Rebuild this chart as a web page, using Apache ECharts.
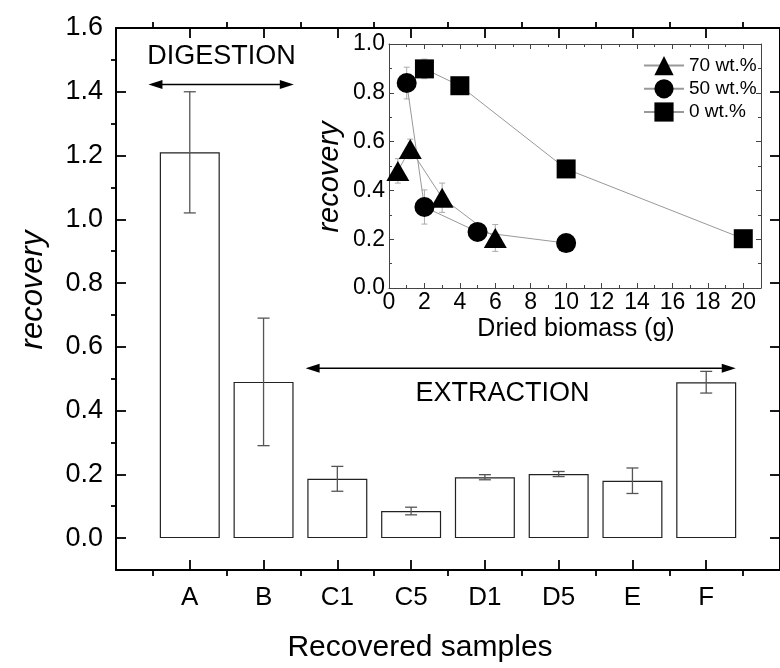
<!DOCTYPE html>
<html>
<head>
<meta charset="utf-8">
<script src="https://cdn.jsdelivr.net/npm/echarts@6/dist/echarts.min.js"></script>
<style>
html, body { margin: 0; padding: 0; background: #fff; }
#chart { width: 780px; height: 668px; }
</style>
</head>
<body>
<div id="chart"></div>
<script>
// main bar chart
const samples = ['A', 'B', 'C1', 'C5', 'D1', 'D5', 'E', 'F'];
const recovery = [1.21, 0.49, 0.186, 0.085, 0.191, 0.201, 0.18, 0.489];
const recoveryErr = [0.19, 0.2, 0.039, 0.012, 0.008, 0.008, 0.04, 0.034];
const mainYTicks = [0, 0.2, 0.4, 0.6, 0.8, 1.0, 1.2, 1.4, 1.6];
const mainYMinor = [0.1, 0.3, 0.5, 0.7, 0.9, 1.1, 1.3, 1.5];
const samplePos = [1, 2, 3, 4, 5, 6, 7, 8];
const sampleEdges = [0.5, 1.5, 2.5, 3.5, 4.5, 5.5, 6.5, 7.5, 8.5];

// phase arrows (x from, x to, y) and labels
const phaseNames = ['DIGESTION', 'EXTRACTION'];
const phaseFrom = [0.44, 2.57];
const phaseTo = [2.41, 8.4];
const phaseArrowY = [1.423, 0.533];
const phaseLabelX = [1.43, 5.24];
const phaseLabelY = [1.509, 0.452];

// inset
const biomass70 = [0.5, 1.2, 3, 6];
const rec70 = [0.48, 0.57, 0.37, 0.205];
const err70 = [0.05, 0.04, 0.06, 0.055];
const biomass50 = [1, 2, 5, 10];
const rec50 = [0.84, 0.332, 0.23, 0.184];
const err50 = [0.065, 0.07, 0.02, 0.01];
const biomass0 = [2, 4, 10, 20];
const rec0 = [0.898, 0.829, 0.488, 0.202];
const err0 = [0.04, 0.01, 0.01, 0.01];
const insetXTicks = [0, 2, 4, 6, 8, 10, 12, 14, 16, 18, 20];
const insetXMinor = [1, 3, 5, 7, 9, 11, 13, 15, 17, 19];

const FONT = '"Liberation Sans", Arial, sans-serif';

function tickAxis(o) {
    // one axis = one set of ticks; labels/line only when asked
    return {
        type: 'value',
        gridIndex: o.grid,
        position: o.pos,
        min: o.min,
        max: o.max,
        interval: o.interval,
        splitLine: { show: false },
        axisLine: { show: !!o.line, onZero: false, lineStyle: { color: o.color || '#000', width: o.lw || 2 } },
        axisTick: {
            show: !!o.ticks,
            inside: !!o.inside,
            length: o.len || 6,
            customValues: o.ticks,
            lineStyle: { color: o.color || '#000', width: o.tw || 1.8 }
        },
        minorTick: o.minor ? { show: true, splitNumber: 2, length: 3, lineStyle: { color: o.color, width: 1 } } : { show: false },
        axisLabel: o.labels ? {
            show: true,
            customValues: o.labels,
            formatter: o.fmt,
            color: '#000',
            fontSize: o.fs,
            fontFamily: FONT,
            margin: o.margin
        } : { show: false }
    };
}

function errorBars(capHalf, color, width) {
    return function (params, api) {
        const x = api.value(0);
        const top = api.coord([x, api.value(2)]);
        const bot = api.coord([x, api.value(1)]);
        const st = { stroke: color, lineWidth: width };
        return {
            type: 'group',
            children: [
                { type: 'line', shape: { x1: top[0], y1: top[1], x2: bot[0], y2: bot[1] }, style: st },
                { type: 'line', shape: { x1: top[0] - capHalf, y1: top[1], x2: top[0] + capHalf, y2: top[1] }, style: st },
                { type: 'line', shape: { x1: bot[0] - capHalf, y1: bot[1], x2: bot[0] + capHalf, y2: bot[1] }, style: st }
            ]
        };
    };
}

function phaseItem(params, api) {
    const i = params.dataIndex;
    const a = api.coord([phaseFrom[i], phaseArrowY[i]]);
    const b = api.coord([phaseTo[i], phaseArrowY[i]]);
    const t = api.coord([phaseLabelX[i], phaseLabelY[i]]);
    const hl = 14, hw = 4.5;
    return {
        type: 'group',
        children: [
            { type: 'line', shape: { x1: a[0] + 4, y1: a[1], x2: b[0] - 4, y2: b[1] }, style: { stroke: '#000', lineWidth: 1.5 } },
            { type: 'polygon', shape: { points: [[a[0], a[1]], [a[0] + hl, a[1] - hw], [a[0] + hl, a[1] + hw]] }, style: { fill: '#000' } },
            { type: 'polygon', shape: { points: [[b[0], b[1]], [b[0] - hl, b[1] - hw], [b[0] - hl, b[1] + hw]] }, style: { fill: '#000' } },
            { type: 'text', x: t[0], y: t[1], style: { text: phaseNames[i], fill: '#000', fontSize: 27, fontFamily: FONT, align: 'center', verticalAlign: 'middle' } }
        ]
    };
}

const chart = echarts.init(document.getElementById('chart'));

const option = {
    animation: false,
    backgroundColor: '#fff',
    grid: [
        { left: 116, top: 28, width: 669, height: 542 },
        { left: 389, top: 44, width: 372, height: 244 }
    ],
    xAxis: [
        tickAxis({ grid: 0, pos: 'bottom', min: 0, max: 9, line: true, ticks: samplePos, inside: true, len: 10,
            labels: samplePos, fmt: v => samples[v - 1], fs: 26, margin: 15 }),
        tickAxis({ grid: 0, pos: 'bottom', min: 0, max: 9, ticks: sampleEdges, len: 6 }),
        tickAxis({ grid: 0, pos: 'top', min: 0, max: 9, line: true, ticks: samplePos, inside: true, len: 10 }),
        tickAxis({ grid: 0, pos: 'top', min: 0, max: 9, ticks: sampleEdges, len: 6 }),
        tickAxis({ grid: 1, pos: 'bottom', min: 0, max: 21, line: true, lw: 1, tw: 1, color: '#444', ticks: insetXTicks, inside: true, len: 5,
            labels: insetXTicks, fmt: v => String(v), fs: 23, margin: 3 }),
        tickAxis({ grid: 1, pos: 'bottom', min: 0, max: 21, tw: 1, color: '#444', ticks: insetXMinor, inside: true, len: 3 }),
        tickAxis({ grid: 1, pos: 'top', min: 0, max: 21, line: true, lw: 1, tw: 1, color: '#444', ticks: insetXTicks, inside: true, len: 5 }),
        tickAxis({ grid: 1, pos: 'top', min: 0, max: 21, tw: 1, color: '#444', ticks: insetXMinor, inside: true, len: 3 })
    ],
    yAxis: [
        tickAxis({ grid: 0, pos: 'left', min: -0.1, max: 1.6, line: true, ticks: mainYTicks, inside: true, len: 10,
            labels: mainYTicks, fmt: v => v.toFixed(1), fs: 27, margin: 13 }),
        tickAxis({ grid: 0, pos: 'left', min: -0.1, max: 1.6, ticks: mainYMinor, len: 5 }),
        tickAxis({ grid: 0, pos: 'right', min: -0.1, max: 1.6, line: true, ticks: mainYTicks, inside: true, len: 10 }),
        tickAxis({ grid: 0, pos: 'right', min: -0.1, max: 1.6, ticks: mainYMinor, len: 5 }),
        tickAxis({ grid: 1, pos: 'left', min: 0, max: 1, interval: 0.2, line: true, lw: 1, tw: 1, color: '#444',
            ticks: [0, 0.2, 0.4, 0.6, 0.8, 1.0], inside: true, len: 5, minor: true,
            labels: [0, 0.2, 0.4, 0.6, 0.8, 1.0], fmt: v => v.toFixed(1), fs: 23, margin: 4 }),
        tickAxis({ grid: 1, pos: 'right', min: 0, max: 1, interval: 0.2, line: true, lw: 1, tw: 1, color: '#444',
            ticks: [0, 0.2, 0.4, 0.6, 0.8, 1.0], inside: true, len: 5, minor: true })
    ],
    legend: {
        data: ['70 wt.%', '50 wt.%', '0 wt.%'],
        orient: 'vertical',
        left: 643,
        top: 56,
        padding: 0,
        itemWidth: 40,
        itemHeight: 24,
        itemGap: 4,
        textStyle: { fontSize: 19, fontFamily: FONT, color: '#000' }
    },
    graphic: [
        { type: 'text', x: 33, y: 290, rotation: Math.PI / 2,
          style: { text: 'recovery', fontSize: 31, fontStyle: 'italic', fontFamily: FONT, fill: '#000', align: 'center', verticalAlign: 'middle' } },
        { type: 'text', x: 420, y: 648,
          style: { text: 'Recovered samples', fontSize: 30, fontFamily: FONT, fill: '#000', align: 'center', verticalAlign: 'middle' } },
        { type: 'text', x: 330, y: 177, rotation: Math.PI / 2,
          style: { text: 'recovery', fontSize: 29, fontStyle: 'italic', fontFamily: FONT, fill: '#000', align: 'center', verticalAlign: 'middle' } },
        { type: 'text', x: 576, y: 329,
          style: { text: 'Dried biomass (g)', fontSize: 25, fontFamily: FONT, fill: '#000', align: 'center', verticalAlign: 'middle' } }
    ],
    series: [
        {
            type: 'bar',
            xAxisIndex: 0, yAxisIndex: 0,
            barWidth: 60,
            data: samples.map((s, i) => [samplePos[i], recovery[i]]),
            itemStyle: { color: '#fff', borderColor: '#222', borderWidth: 1.2 },
            z: 2
        },
        {
            type: 'custom',
            xAxisIndex: 0, yAxisIndex: 0,
            renderItem: errorBars(6, '#555', 1.3),
            data: samples.map((s, i) => [samplePos[i], recovery[i] - recoveryErr[i], recovery[i] + recoveryErr[i]]),
            z: 3
        },
        {
            type: 'custom',
            xAxisIndex: 0, yAxisIndex: 0,
            renderItem: phaseItem,
            data: phaseNames.map((n, i) => [phaseFrom[i], phaseArrowY[i]]),
            z: 4
        },
        {
            type: 'custom',
            xAxisIndex: 4, yAxisIndex: 4,
            renderItem: errorBars(3, '#aaa', 1),
            data: [].concat(
                biomass70.map((x, i) => [x, rec70[i] - err70[i], rec70[i] + err70[i]]),
                biomass50.map((x, i) => [x, rec50[i] - err50[i], rec50[i] + err50[i]]),
                biomass0.map((x, i) => [x, rec0[i] - err0[i], rec0[i] + err0[i]])
            ),
            z: 1
        },
        {
            name: '70 wt.%', type: 'line', xAxisIndex: 4, yAxisIndex: 4,
            data: biomass70.map((x, i) => [x, rec70[i]]),
            symbol: 'triangle', symbolSize: [23, 20],
            itemStyle: { color: '#000' }, lineStyle: { color: '#999', width: 1 }, z: 3
        },
        {
            name: '50 wt.%', type: 'line', xAxisIndex: 4, yAxisIndex: 4,
            data: biomass50.map((x, i) => [x, rec50[i]]),
            symbol: 'circle', symbolSize: 20,
            itemStyle: { color: '#000' }, lineStyle: { color: '#999', width: 1 }, z: 3
        },
        {
            name: '0 wt.%', type: 'line', xAxisIndex: 4, yAxisIndex: 4,
            data: biomass0.map((x, i) => [x, rec0[i]]),
            symbol: 'rect', symbolSize: 19,
            itemStyle: { color: '#000' }, lineStyle: { color: '#999', width: 1 }, z: 3
        }
    ]
};

chart.setOption(option);
</script>
</body>
</html>
